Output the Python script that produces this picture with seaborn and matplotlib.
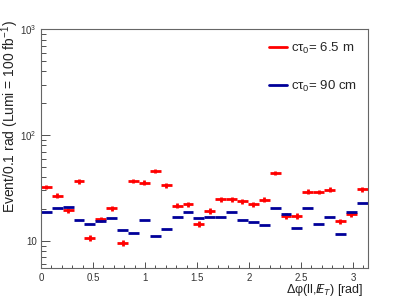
import numpy as np
import pandas as pd
import matplotlib
matplotlib.use("Agg")
import matplotlib.pyplot as plt
import matplotlib.ticker as mticker
from matplotlib.lines import Line2D
import seaborn as sns

# 30 bins over [0, pi]
n_bins = 30
bin_edges = np.linspace(0, np.pi, n_bins + 1)
bin_centers = 0.5 * (bin_edges[:-1] + bin_edges[1:])
bin_half = 0.5 * (bin_edges[1] - bin_edges[0])

# ctau0 = 6.5 m (red, with stat. errors)
red_counts = [32.5, 26.7, 19.5, 36.6, 10.7, 16.0, 20.3, 9.6, 36.8, 35.5,
              45.7, 33.5, 21.5, 22.2, 14.5, 19.2, 24.9, 24.9, 23.8, 22.3,
              24.5, 43.8, 17.2, 17.2, 29.2, 29.0, 30.5, 15.4, 17.9, 30.9]
red_err = [1.6, 1.4, 1.1, 1.8, 0.7, 0.9, 1.1, 0.7, 1.8, 1.8,
           2.2, 1.7, 1.2, 1.2, 0.9, 1.1, 1.3, 1.3, 1.3, 1.2,
           1.3, 2.1, 1.0, 1.0, 1.5, 1.5, 1.6, 0.9, 1.0, 1.6]

# ctau0 = 90 cm (blue)
blue_counts = [18.7, 20.6, 20.8, 15.7, 14.6, 15.4, 16.5, 12.7, 11.9, 15.7,
               11.1, 13.1, 16.7, 18.9, 16.5, 16.8, 16.8, 18.9, 15.8, 15.0,
               14.2, 20.6, 17.9, 13.3, 20.6, 14.4, 17.0, 11.6, 18.7, 22.7]

labels = ["c\u03c4$_{0}$= 6.5 m", "c\u03c4$_{0}$= 90 cm"]
colors = ["#ff0000", "#000099"]

df = pd.DataFrame({"x": bin_centers, "red": red_counts, "red_err": red_err,
                   "blue": blue_counts})

sns.set_theme(style="ticks")
plt.rcParams["font.family"] = ["Liberation Sans", "DejaVu Sans"]
plt.rcParams["mathtext.fontset"] = "custom"
plt.rcParams["mathtext.rm"] = "Liberation Sans"
plt.rcParams["mathtext.it"] = "Liberation Sans:italic"
plt.rcParams["mathtext.bf"] = "Liberation Sans:bold"

fig = plt.figure(figsize=(4.09, 3.0), dpi=100)
ax = fig.add_axes([0.100, 0.108, 0.799, 0.794])

ax.errorbar(df["x"], df["red"], xerr=bin_half, yerr=df["red_err"],
            fmt="none", ecolor=colors[0], elinewidth=2.0, capsize=0)
ax.errorbar(df["x"], df["blue"], xerr=bin_half,
            fmt="none", ecolor=colors[1], elinewidth=2.0, capsize=0)

ax.set_yscale("log")
ax.set_xlim(0, np.pi)
ax.set_ylim(5.6, 1000)

ax.xaxis.set_major_locator(mticker.MultipleLocator(0.5))
ax.xaxis.set_minor_locator(mticker.MultipleLocator(0.1))
ax.xaxis.set_major_formatter(mticker.FuncFormatter(lambda v, p: f"{v:g}"))
ax.yaxis.set_major_locator(mticker.LogLocator(base=10))
ax.yaxis.set_minor_locator(mticker.LogLocator(base=10, subs=np.arange(2, 10)))
ax.yaxis.set_minor_formatter(mticker.NullFormatter())
ax.yaxis.set_major_formatter(mticker.FuncFormatter(
    lambda v, p: "10" if abs(v - 10) < 1e-6 else f"$10^{{{int(round(np.log10(v)))}}}$"))

ax.tick_params(axis="both", which="both", direction="in", colors="#333333",
               labelsize=7, top=False, right=False)
ax.tick_params(axis="x", which="major", length=4.3, width=0.6, pad=4)
ax.tick_params(axis="x", which="minor", length=2.2, width=0.6)
ax.tick_params(axis="y", which="major", length=6.5, width=0.6, pad=3)
ax.tick_params(axis="y", which="minor", length=3.6, width=0.6)
for s in ax.spines.values():
    s.set_color("#666666")
    s.set_linewidth(0.8)

ax.set_xlabel("\u0394\u03c6(ll,$\\,/\\!\\!\\!E_{T}$) [rad]", fontsize=9,
              loc="right", color="#222222")
ax.xaxis.set_label_coords(0.986, -0.062)
ax.set_ylabel("Event/0.1 rad (Lumi = 100 fb$^{-1}$)", fontsize=10,
              loc="top", color="#222222")
ax.yaxis.set_label_coords(-0.062, 1.039)

handles = [Line2D([], [], color=c, lw=2) for c in colors]
ax.legend(handles, labels, loc="upper right", bbox_to_anchor=(0.985, 0.975),
          frameon=False, fontsize=9.5, handlelength=1.4, handletextpad=0.3,
          labelspacing=1.75, borderaxespad=0)

fig.savefig("out.png", dpi=100)
